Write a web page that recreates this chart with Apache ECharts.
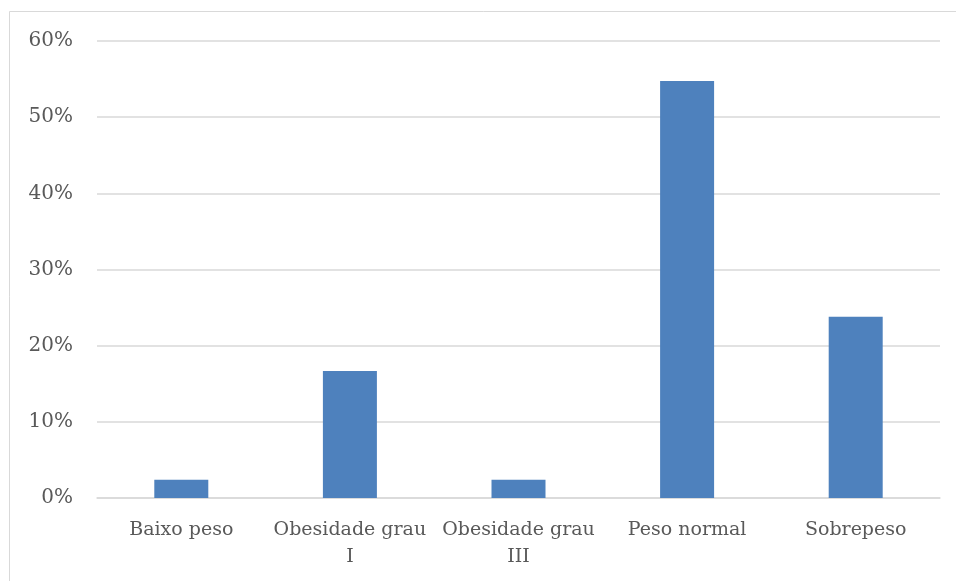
<!DOCTYPE html>
<html>
<head>
<meta charset="utf-8">
<script src="https://cdn.jsdelivr.net/npm/echarts@6/dist/echarts.min.js"></script>
<style>
  html, body { margin: 0; padding: 0; background: #ffffff; }
  #chart { width: 956px; height: 581px; }
</style>
</head>
<body>
<div id="chart"></div>
<script>
// Distribuição por categoria de IMC (percentagem)
const categories = ['Baixo peso', 'Obesidade grau I', 'Obesidade grau III', 'Peso normal', 'Sobrepeso'];
const tickLabels = ['Baixo peso', 'Obesidade grau\nI', 'Obesidade grau\nIII', 'Peso normal', 'Sobrepeso'];
const percentages = [2.38, 16.67, 2.38, 54.76, 23.81];
const yTicks = [0, 10, 20, 30, 40, 50, 60];

const chart = echarts.init(document.getElementById('chart'), null, { renderer: 'canvas' });
const fontFamily = 'DejaVu Serif';

chart.setOption({
  animation: false,
  backgroundColor: '#ffffff',
  graphic: [{
    type: 'rect',
    shape: { x: 9.5, y: 11.5, width: 980, height: 600 },
    style: { fill: 'none', stroke: '#d9d9d9', lineWidth: 1 },
    silent: true
  }],
  grid: { left: 97, right: 16, top: 41, bottom: 83, containLabel: false },
  xAxis: {
    type: 'category',
    data: categories,
    axisLine: { show: true, lineStyle: { color: '#d9d9d9', width: 1.5 } },
    axisTick: { show: false },
    axisLabel: {
      color: '#595959',
      fontFamily: fontFamily,
      fontSize: 19,
      lineHeight: 27,
      margin: 19,
      interval: 0,
      formatter: (v, i) => tickLabels[i]
    }
  },
  yAxis: {
    type: 'value',
    min: yTicks[0],
    max: yTicks[yTicks.length - 1],
    interval: 10,
    axisLine: { show: false },
    axisTick: { show: false },
    splitLine: { lineStyle: { color: '#d9d9d9', width: 1.5 } },
    axisLabel: {
      color: '#595959',
      fontFamily: fontFamily,
      fontSize: 20,
      margin: 24,
      formatter: v => v + '%'
    }
  },
  series: [{
    type: 'bar',
    data: percentages,
    barWidth: 54,
    itemStyle: { color: '#4e81bd' }
  }]
});
</script>
</body>
</html>
